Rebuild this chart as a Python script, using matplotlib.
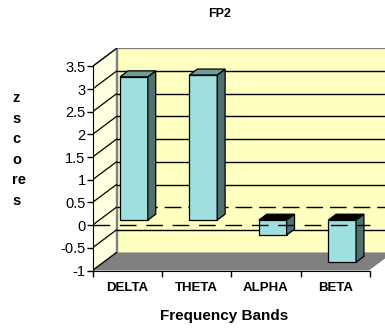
import matplotlib
matplotlib.use('Agg')
matplotlib.rcParams.update({'font.family': ['Liberation Sans', 'DejaVu Sans'], 'font.size': 10})

import matplotlib.pyplot as plt
from matplotlib.patches import Polygon

bands = ['DELTA', 'THETA', 'ALPHA', 'BETA']
zscores = [3.16, 3.2, -0.33, -0.93]
yticks = [-1, -0.5, 0, 0.5, 1, 1.5, 2, 2.5, 3, 3.5]

# pseudo-3d depth of the walls, in data units (x: categories, y: z score)
ddx, ddy = 0.346, 0.396
bar_front, bar_back = 0.28, 0.61   # depth fraction of the bar front/back planes
width = 0.4

wall_back = '#FFFFC0'
wall_side = '#FFFFE0'
floor_col = '#808080'
face_col = '#A0DFDF'
side_col = '#4E716E'
top_col = '#6E9C99'

fig = plt.figure(figsize=(3.85, 3.3), dpi=100)
ymin, ymax = yticks[0], yticks[-1]
ax = fig.add_axes([92.5 / 385, 59.5 / 330, 292.5 / 385, 222.5 / 330])
ax.set_xlim(0, 292.5 / 69.4)
ax.set_ylim(ymin, ymax + ddy + 0.01)
ax.patch.set_visible(False)

n = len(bands)

# walls and floor
ax.add_patch(Polygon([(0, ymin), (0, ymax), (ddx, ymax + ddy), (ddx, ymin + ddy)],
                     closed=True, fc=wall_side, ec='#808080', lw=1, zorder=1))
ax.add_patch(Polygon([(ddx, ymin + ddy), (ddx, ymax + ddy), (n + ddx + 1, ymax + ddy), (n + ddx + 1, ymin + ddy)],
                     closed=True, fc=wall_back, ec='#808080', lw=1, zorder=1))
ax.add_patch(Polygon([(0, ymin), (n, ymin), (n + ddx, ymin + ddy), (ddx, ymin + ddy)],
                     closed=True, fc=floor_col, ec='none', zorder=2))
ax.plot([n, n + ddx], [ymin, ymin + ddy], color='white', lw=1, zorder=2)

# gridlines on back wall + diagonals on side wall
for v in yticks[1:-1]:
    ls = (0, (12, 5)) if v == 0 else '-'
    ax.plot([ddx, n + ddx + 1], [v + ddy, v + ddy], color='black', lw=1, ls=ls, zorder=3)
for v in yticks:
    ax.plot([0, ddx], [v, v + ddy], color='black', lw=0.9, zorder=3)

# bars
f0x, f0y = bar_front * ddx, bar_front * ddy
bdx, bdy = (bar_back - bar_front) * ddx, (bar_back - bar_front) * ddy
for i, v in enumerate(zscores):
    x0 = i + 0.5 - width / 2 + f0x
    x1 = x0 + width
    lo, hi = min(0, v) + f0y, max(0, v) + f0y
    ax.add_patch(Polygon([(x0, lo), (x1, lo), (x1, hi), (x0, hi)], closed=True,
                         fc=face_col, ec='black', lw=0.9, zorder=5))
    ax.add_patch(Polygon([(x1, lo), (x1 + bdx, lo + bdy), (x1 + bdx, hi + bdy), (x1, hi)], closed=True,
                         fc=side_col, ec='black', lw=0.9, zorder=5))
    ax.add_patch(Polygon([(x0, hi), (x1, hi), (x1 + bdx, hi + bdy), (x0 + bdx, hi + bdy)], closed=True,
                         fc=top_col if v > 0 else 'black', ec='black', lw=0.9, zorder=5))

# front zero line
ax.plot([0, n], [0, 0], color='black', lw=1, ls=(0, (12, 7)), zorder=6)

# axes
for s in ['top', 'right']:
    ax.spines[s].set_visible(False)
ax.spines['left'].set_bounds(ymin, ymax)
ax.spines['bottom'].set_bounds(0, n)
ax.spines['left'].set_zorder(7)
ax.spines['bottom'].set_zorder(7)
ax.set_yticks(yticks)
ax.set_yticklabels([f'{t:g}' for t in yticks], fontsize=10.5)
ax.tick_params(axis='y', length=4, width=1, pad=1)
ax.set_xticks(range(n + 1))
ax.set_xticklabels([])
ax.tick_params(axis='x', which='major', length=4, width=1)
ax.set_xticks([i + 0.5 for i in range(n)], minor=True)
ax.set_xticklabels(bands, minor=True, fontsize=9.5, fontweight='bold')
ax.tick_params(axis='x', which='minor', length=0, pad=8)

fig.text(220 / 385, 1 - 14 / 330, 'FP2', ha='center', va='center', fontsize=9, fontweight='bold')
fig.text(224 / 385, 1 - 316 / 330, 'Frequency Bands', ha='center', va='center', fontsize=11, fontweight='bold')
fig.text(12 / 385, 1 - 149.5 / 330, 'z\ns\nc\no\nre\ns', ha='left', va='center',
         fontsize=10.5, fontweight='bold', linespacing=1.6)

fig.savefig('out.png', dpi=100)
